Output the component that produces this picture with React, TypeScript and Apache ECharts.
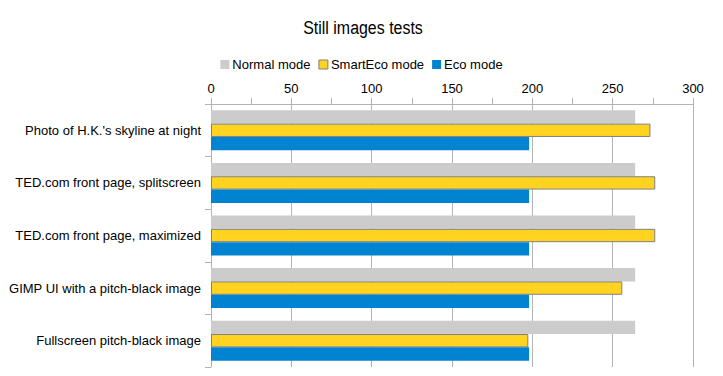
import React, { useEffect, useRef } from "react";
import * as echarts from "echarts";

const categories = [
  "Photo of H.K.'s skyline at night",
  "TED.com front page, splitscreen",
  "TED.com front page, maximized",
  "GIMP UI with a pitch-black image",
  "Fullscreen pitch-black image",
];
const normalMode = [264, 264, 264, 264, 264];
const smartEcoMode = [273.5, 276.5, 276.5, 256, 197.5];
const ecoMode = [198, 198, 198, 198, 198];
const titleText = "Still images tests";

export default function App() {
  const ref = useRef<HTMLDivElement>(null);
  useEffect(() => {
    const chart = echarts.init(ref.current!, null, { renderer: "svg" });
    const font = "'Liberation Sans', Arial, sans-serif";
    chart.setOption({
      animation: false,
      textStyle: { fontFamily: font },
      graphic: [
        {
          type: "text",
          x: 363,
          y: 28,
          scaleX: 0.84,
          style: {
            text: titleText,
            fontFamily: font,
            fontSize: 19,
            fill: "#000",
            textAlign: "center",
            textVerticalAlign: "middle",
          },
        },
      ],
      legend: {
        top: 53,
        left: "center",
        itemWidth: 9,
        itemHeight: 9,
        itemGap: 8,
        icon: "rect",
        textStyle: { fontFamily: font, fontSize: 13, color: "#000", padding: [0, 0, 0, -2] },
        data: [
          { name: "Normal mode", itemStyle: { borderWidth: 0 } },
          { name: "SmartEco mode", itemStyle: { borderColor: "#808080", borderWidth: 1 } },
          { name: "Eco mode", itemStyle: { borderWidth: 0 } },
        ],
      },
      grid: { left: 211, right: 30, top: 104, bottom: 9, containLabel: false },
      xAxis: {
        type: "value",
        position: "top",
        min: 0,
        max: 300,
        interval: 50,
        axisLine: { show: true, lineStyle: { color: "#b3b3b3" } },
        axisTick: { show: true, length: 6, lineStyle: { color: "#b3b3b3" } },
        minorTick: { show: true, splitNumber: 2, length: 6, lineStyle: { color: "#b3b3b3" } },
        splitLine: { show: true, lineStyle: { color: "#b3b3b3" } },
        axisLabel: { fontFamily: font, fontSize: 13, color: "#000", margin: 9 },
      },
      yAxis: {
        type: "category",
        inverse: true,
        data: categories,
        axisLine: { show: true, lineStyle: { color: "#b3b3b3" } },
        axisTick: { show: true, length: 6, lineStyle: { color: "#b3b3b3" } },
        axisLabel: { fontFamily: font, fontSize: 13, color: "#000", margin: 10 },
      },
      series: [
        {
          name: "Normal mode",
          type: "bar",
          data: normalMode,
          barGap: "0%",
          barCategoryGap: "24%",
          itemStyle: { color: "#cccccc" },
        },
        {
          name: "SmartEco mode",
          type: "bar",
          data: smartEcoMode,
          itemStyle: { color: "#ffd320", borderColor: "#808080", borderWidth: 1 },
        },
        {
          name: "Eco mode",
          type: "bar",
          data: ecoMode,
          itemStyle: { color: "#0084d1" },
        },
      ],
    });
    return () => chart.dispose();
  }, []);
  return <div ref={ref} style={{ width: 723, height: 376, position: "absolute", left: 0, top: 0 }} />;
}
